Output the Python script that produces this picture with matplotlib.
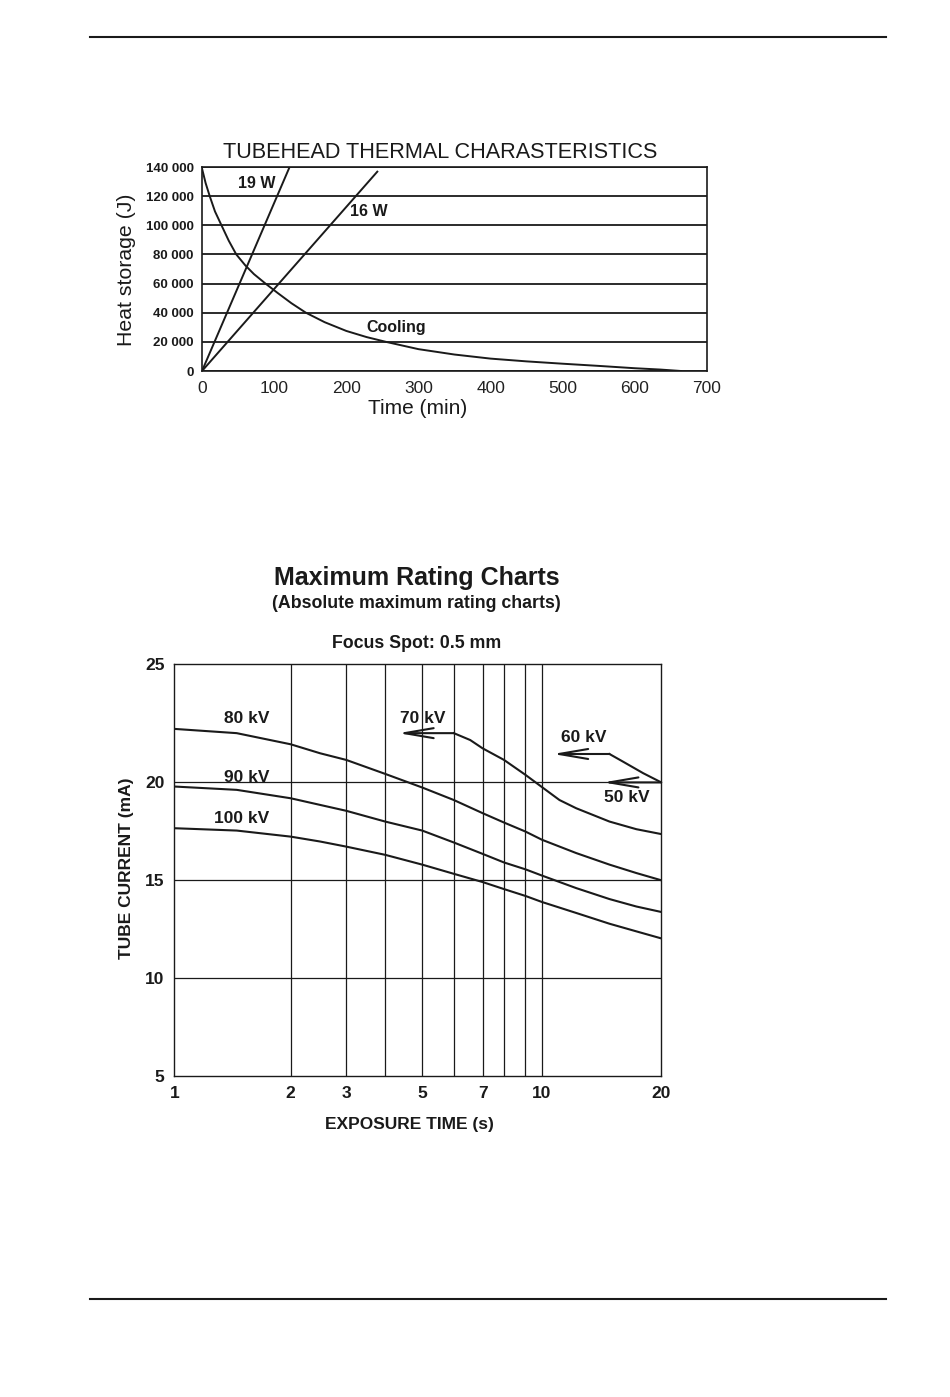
import matplotlib
matplotlib.use("Agg")
import matplotlib.pyplot as plt
from matplotlib.lines import Line2D
from matplotlib.ticker import NullLocator, FixedLocator
import numpy as np

plt.rcParams['font.family'] = ['Liberation Sans', 'DejaVu Sans']

# Top chart data (time in min, heat storage in J)
heat_ticks = [0, 20000, 40000, 60000, 80000, 100000, 120000, 140000]
time_ticks = [0, 100, 200, 300, 400, 500, 600, 700]
w19_t = [0, 121]
w19_q = [0, 139500]
w16_t = [0, 243]
w16_q = [0, 136800]
cool_t = [0, 5, 10.7, 18, 27, 37, 47.5, 60, 72, 88, 105, 124, 144, 170, 200, 228, 255,
          300, 350, 400, 450, 500, 550, 600, 635, 664]
cool_q = [139000, 129000, 120000, 109500, 100000, 89500, 80000, 72500, 66500, 60000, 53500,
          46500, 40000, 33500, 27500, 23300, 20000, 15000, 11300, 8500, 6600, 5000, 3500,
          1900, 1000, 0]

# Bottom chart data (exposure time s, tube current mA)
exp_ticks = [1, 2, 3, 5, 7, 10, 20]
exp_grid = [2, 3, 4, 5, 6, 7, 8, 9, 10]
cur_ticks = [5, 10, 15, 20, 25]
cur_grid = [10, 15, 20]
kv_t = [1, 1.45, 2, 2.48, 3, 4, 5, 6, 7, 8, 9, 10, 12.2, 14.8, 17.3, 20]
kv80 = [22.26, 22.08, 21.61, 21.23, 20.95, 20.36, 19.74, 19.1, 18.43, 17.95, 17.49, 17.07,
        16.39, 15.8, 15.37, 15.0]
kv90 = [19.79, 19.62, 19.19, 18.85, 18.55, 18.0, 17.54, 16.93, 16.35, 15.91, 15.56, 15.24,
        14.6, 14.04, 13.66, 13.38]
kv100 = [17.66, 17.54, 17.23, 16.98, 16.72, 16.3, 15.8, 15.33, 14.91, 14.55, 14.2, 13.89,
         13.33, 12.78, 12.39, 12.03]
kv70_t = [6, 6.55, 7, 8, 9, 10, 11.07, 12.2, 14.8, 17.3, 20]
kv70 = [22.08, 21.79, 21.44, 20.95, 20.32, 19.76, 19.1, 18.68, 18.0, 17.61, 17.36]
kv60_t = [14.8, 16.0, 18.0, 20]
kv60 = [21.2, 20.88, 20.39, 20.0]
# (arrow tip, arrow start, level)
kv70_arrow = (4.33, 6, 22.08)
kv60_arrow = (10.65, 14.8, 21.2)
kv50_arrow = (14.26, 20, 20.0)

W, H = 950, 1397
fig = plt.figure(figsize=(W / 100, H / 100), dpi=100)
ink = '#1a1a1a'

def fx(px):
    return px / W

def fy(py):
    return 1 - py / H

# page rules
for py in (37, 1299):
    fig.add_artist(Line2D([fx(90), fx(886)], [fy(py), fy(py)], transform=fig.transFigure, lw=1.5, color=ink))

# ---------- top chart ----------
ax1 = fig.add_axes([fx(202), fy(371), fx(707) - fx(202), fy(167) - fy(371)])
ax1.plot(w19_t, w19_q, color=ink, lw=1.4)
ax1.plot(w16_t, w16_q, color=ink, lw=1.4)
ax1.plot(cool_t, cool_q, color=ink, lw=1.4)
ax1.set_xlim(0, 700)
ax1.set_ylim(0, 140000)
ax1.set_xticks(time_ticks)
ax1.set_yticks(heat_ticks)
ax1.set_yticklabels([f"{v:,}".replace(",", " ") for v in heat_ticks], fontsize=9.5, fontweight='bold', color=ink)
ax1.set_xticklabels([str(v) for v in time_ticks], fontsize=12.5, color='#222222')
ax1.tick_params(length=0, pad=6)
ax1.tick_params(axis='x', pad=7)
ax1.grid(axis='y', color=ink, lw=1.3)
ax1.set_axisbelow(True)
for s in ax1.spines.values():
    s.set_linewidth(1.2)
    s.set_color(ink)
ax1.text(75.5, 129000, "19 W", fontsize=11.5, fontweight='bold', color=ink, ha='center', va='center')
ax1.text(231.5, 109300, "16 W", fontsize=11.5, fontweight='bold', color=ink, ha='center', va='center')
ax1.text(269, 30000, "Cooling", fontsize=11.5, fontweight='bold', color=ink, ha='center', va='center')

fig.text(fx(440), fy(152), "TUBEHEAD THERMAL CHARASTERISTICS", fontsize=15.6, color=ink, ha='center', va='center')
fig.text(fx(127), fy(270), "Heat storage (J)", fontsize=15.3, color=ink, ha='center', va='center', rotation=90)
fig.text(fx(418), fy(409), "Time (min)", fontsize=15, color=ink, ha='center', va='center')

# ---------- bottom chart ----------
# the printed chart's exposure axis is only roughly logarithmic: piecewise in log10
x_anchor = np.log10([1, 2, 3, 4, 5, 6, 7, 8, 9, 10, 20])
x_frac = np.array([0, .239, .353, .433, .509, .574, .633, .677, .721, .755, 1.0])

def xfwd(x):
    x = np.clip(np.asarray(x, dtype=float), 1e-6, None)
    return np.interp(np.log10(x), x_anchor, x_frac)

def xinv(v):
    return 10 ** np.interp(np.asarray(v, dtype=float), x_frac, x_anchor)

# current axis: 20-25 band is drawn taller than the others
def yfwd(y):
    y = np.asarray(y, dtype=float)
    return np.where(y > 20, 20 + (y - 20) * 1.21, y)

def yinv(v):
    v = np.asarray(v, dtype=float)
    return np.where(v > 20, 20 + (v - 20) / 1.21, v)

ax2 = fig.add_axes([fx(174.3), fy(1076), fx(661.3) - fx(174.3), fy(664) - fy(1076)])
ax2.set_xscale('function', functions=(xfwd, xinv))
ax2.set_yscale('function', functions=(yfwd, yinv))
ax2.set_xlim(1, 20)
ax2.set_ylim(5, 25)
for xv in exp_grid:
    ax2.axvline(xv, color=ink, lw=0.9, zorder=1)
for yv in cur_grid:
    ax2.axhline(yv, color=ink, lw=0.9, zorder=1)

ax2.plot(kv_t, kv80, color=ink, lw=1.5)
ax2.plot(kv_t, kv90, color=ink, lw=1.5)
ax2.plot(kv_t, kv100, color=ink, lw=1.5)
ax2.plot(kv70_t, kv70, color=ink, lw=1.5)
ax2.plot(kv60_t, kv60, color=ink, lw=1.5)

arrow_style = dict(arrowstyle='->,head_length=2.1,head_width=0.36', color=ink, lw=1.5,
                   shrinkA=0, shrinkB=0, mutation_scale=10)
for tip, start, yv in (kv70_arrow, kv60_arrow, kv50_arrow):
    ax2.annotate('', xy=(tip, yv), xytext=(start, yv), arrowprops=arrow_style)

ax2.xaxis.set_major_locator(FixedLocator(exp_ticks))
ax2.xaxis.set_minor_locator(NullLocator())
ax2.set_xticklabels([str(v) for v in exp_ticks], fontsize=12.5, fontweight='bold', color=ink)
ax2.yaxis.set_major_locator(FixedLocator(cur_ticks))
ax2.yaxis.set_minor_locator(NullLocator())
ax2.set_yticklabels([str(v) for v in cur_ticks], fontsize=12.5, fontweight='bold', color=ink)
ax2.tick_params(length=0, pad=7)
for s in ax2.spines.values():
    s.set_linewidth(1.0)
    s.set_color(ink)

lbl = dict(fontsize=12.5, fontweight='bold', color=ink, ha='center', va='center')
ax2.text(1.54, 22.71, "80 kV", **lbl)
ax2.text(1.54, 20.22, "90 kV", **lbl)
ax2.text(1.49, 18.17, "100 kV", **lbl)
ax2.text(5.03, 22.71, "70 kV", **lbl)
ax2.text(12.76, 21.89, "60 kV", **lbl)
ax2.text(16.4, 19.25, "50 kV", **lbl)

fig.text(fx(416.5), fy(578), "Maximum Rating Charts", fontsize=18, fontweight='bold', color=ink, ha='center', va='center')
fig.text(fx(416.5), fy(603), "(Absolute maximum rating charts)", fontsize=12.8, fontweight='bold', color=ink, ha='center', va='center')
fig.text(fx(416.5), fy(643), "Focus Spot: 0.5 mm", fontsize=12.8, fontweight='bold', color=ink, ha='center', va='center')
fig.text(fx(409.5), fy(1124), "EXPOSURE TIME (s)", fontsize=12.5, fontweight='bold', color=ink, ha='center', va='center')
fig.text(fx(126), fy(868), "TUBE CURRENT (mA)", fontsize=12.5, fontweight='bold', color=ink, ha='center', va='center', rotation=90)

fig.savefig("out.png", dpi=100)
